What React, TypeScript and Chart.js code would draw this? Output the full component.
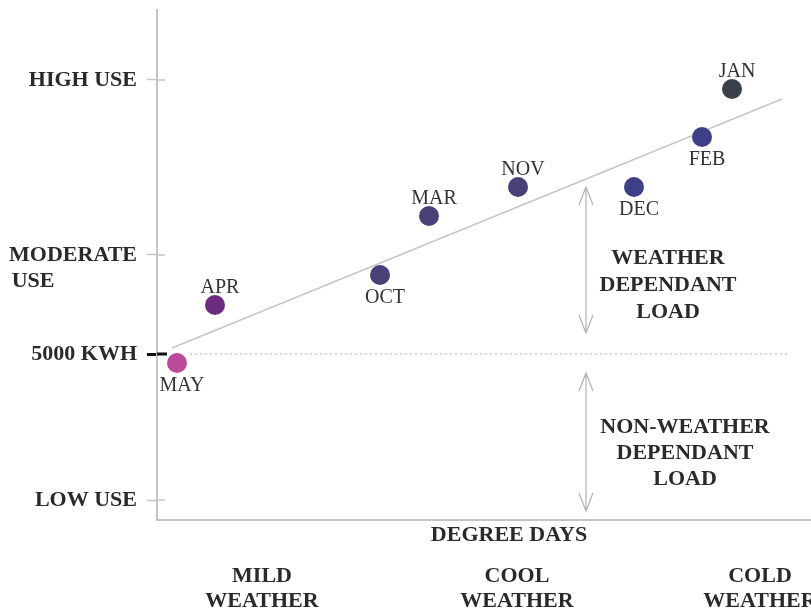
import React, { useEffect, useRef } from 'react';
import { Chart, registerables } from 'chart.js';

Chart.register(...registerables);

// ---- data (x: degree-day units, y: usage units) ----
const months = ['MAY', 'APR', 'OCT', 'MAR', 'NOV', 'DEC', 'FEB', 'JAN'];
const degreeDays = [20, 58, 223, 272, 361, 477, 545, 575];
const usage = [157, 215, 245, 304, 333, 333, 383, 431];
const pointColors = ['#bb4a9c', '#6b2c7d', '#4b3f78', '#4b3f78', '#4b3f78', '#3f3f88', '#3f3f88', '#3a3f4c'];
const labelSides = ['below', 'above', 'below', 'above', 'above', 'below', 'below', 'above'];

const trendX = [15, 625];
const trendY = [172, 421];
const baseLoad = 166;
const baseLineX = [33, 633];

const yTickValues = [20, 166, 265, 440];
const yTickLabels: (string | string[])[] = ['LOW USE', '5000 KWH', ['', 'MODERATE', 'USE' + ' '.repeat(15)], 'HIGH USE'];
const xTickValues = [105, 360, 603];
const xTickLabels = [['MILD', 'WEATHER'], ['COOL', 'WEATHER'], ['COLD', 'WEATHER']];
const xTitle = 'DEGREE DAYS';
const xTitleAt = 352;

const arrowX = 429;
const arrowTops = [333, 147];
const arrowBottoms = [187, 9];

const weatherNoteLines = ['WEATHER', 'DEPENDANT', 'LOAD'];
const weatherNoteX = 511;
const weatherNoteY = [262, 235, 208];
const baseNoteLines = ['NON-WEATHER', 'DEPENDANT', 'LOAD'];
const baseNoteX = 528;
const baseNoteY = [93, 67, 41];

const SERIF = '"Liberation Serif", "Times New Roman", serif';
const TEXT = '#2a2a2a';

const notesPlugin = {
  id: 'notes',
  afterDatasetsDraw(chart: any) {
    const { ctx } = chart;
    const xs = chart.scales.x;
    const ys = chart.scales.y;
    ctx.save();
    // inner part of y tick marks (they cross the axis)
    yTickValues.forEach((v) => {
      const py = ys.getPixelForValue(v);
      const base = v === baseLoad;
      ctx.strokeStyle = base ? '#111111' : '#c4c4c4';
      ctx.lineWidth = base ? 3 : 1.5;
      ctx.beginPath();
      ctx.moveTo(xs.left, py);
      ctx.lineTo(xs.left + (base ? 10 : 8), py);
      ctx.stroke();
    });
    // double arrows
    ctx.strokeStyle = '#b2b2b2';
    ctx.lineWidth = 1.2;
    arrowTops.forEach((t, i) => {
      const px = xs.getPixelForValue(arrowX);
      const p1 = ys.getPixelForValue(t);
      const p2 = ys.getPixelForValue(arrowBottoms[i]);
      ctx.beginPath();
      ctx.moveTo(px, p1);
      ctx.lineTo(px, p2);
      ctx.moveTo(px - 7, p1 + 18);
      ctx.lineTo(px, p1);
      ctx.lineTo(px + 7, p1 + 18);
      ctx.moveTo(px - 7, p2 - 18);
      ctx.lineTo(px, p2);
      ctx.lineTo(px + 7, p2 - 18);
      ctx.stroke();
    });
    // notes
    ctx.fillStyle = TEXT;
    ctx.textAlign = 'center';
    ctx.textBaseline = 'middle';
    ctx.font = `bold 22px ${SERIF}`;
    weatherNoteLines.forEach((l, i) => {
      ctx.fillText(l, xs.getPixelForValue(weatherNoteX), ys.getPixelForValue(weatherNoteY[i]));
    });
    baseNoteLines.forEach((l, i) => {
      ctx.fillText(l, xs.getPixelForValue(baseNoteX), ys.getPixelForValue(baseNoteY[i]));
    });
    ctx.fillText(xTitle, xs.getPixelForValue(xTitleAt), xs.top + 15);
    // month labels
    ctx.font = `20px ${SERIF}`;
    ctx.fillStyle = '#333333';
    const meta = chart.getDatasetMeta(0);
    meta.data.forEach((el: any, i: number) => {
      const dy = labelSides[i] === 'above' ? -17 : 23;
      ctx.fillText(months[i], el.x + 5, el.y + dy);
    });
    ctx.restore();
  },
};

export default function App() {
  const ref = useRef<HTMLCanvasElement>(null);
  useEffect(() => {
    if (!ref.current) return;
    const chart = new Chart(ref.current, {
      type: 'scatter',
      data: {
        datasets: [
          {
            data: months.map((_, i) => ({ x: degreeDays[i], y: usage[i] })),
            backgroundColor: pointColors,
            pointBackgroundColor: pointColors,
            pointBorderWidth: 0,
            pointRadius: 10,
            order: 0,
          },
          {
            data: trendX.map((x, i) => ({ x, y: trendY[i] })),
            showLine: true,
            borderColor: '#c6c6c6',
            borderWidth: 1.5,
            pointRadius: 0,
            order: 1,
          },
          {
            data: baseLineX.map((x) => ({ x, y: baseLoad })),
            showLine: true,
            borderColor: '#c9c9c9',
            borderWidth: 1.5,
            borderDash: [2, 3],
            pointRadius: 0,
            order: 2,
          },
        ],
      } as any,
      options: {
        animation: false,
        responsive: false,
        layout: { autoPadding: false, padding: { top: 10, left: 0, right: 0, bottom: 0 } },
        plugins: { legend: { display: false }, tooltip: { enabled: false } },
        scales: {
          x: {
            type: 'linear',
            min: 0,
            max: 654,
            afterBuildTicks: (s: any) => {
              s.ticks = xTickValues.map((v) => ({ value: v }));
            },
            afterFit: (s: any) => {
              s.height = 91;
              s.paddingLeft = 0;
              s.paddingRight = 0;
            },
            grid: { display: false },
            border: { display: true, color: '#c4c4c4', width: 2 },
            ticks: {
              autoSkip: false,
              maxRotation: 0,
              padding: 36,
              color: TEXT,
              font: { family: SERIF, size: 22, weight: 'bold', lineHeight: '25px' },
              callback: (_v: any, i: number) => xTickLabels[i],
            },
          },
          y: {
            type: 'linear',
            min: 0,
            max: 510,
            afterBuildTicks: (s: any) => {
              s.ticks = yTickValues.map((v) => ({ value: v }));
            },
            afterFit: (s: any) => {
              s.width = 157;
              s.paddingTop = 0;
              s.paddingBottom = 0;
            },
            grid: {
              display: true,
              drawOnChartArea: false,
              drawTicks: true,
              tickLength: 10,
              tickColor: (c: any) => (c.tick && c.tick.value === baseLoad ? '#111111' : '#c4c4c4'),
              tickWidth: (c: any) => (c.tick && c.tick.value === baseLoad ? 3 : 1.5),
            },
            border: { display: true, color: '#c4c4c4', width: 2 },
            ticks: {
              autoSkip: false,
              padding: 10,
              color: TEXT,
              font: { family: SERIF, size: 22, weight: 'bold', lineHeight: '26px' },
              callback: (_v: any, i: number) => yTickLabels[i],
            },
          },
        },
      } as any,
      plugins: [notesPlugin],
    });
    return () => chart.destroy();
  }, []);
  return (
    <div style={{ position: 'fixed', left: 0, top: 0, width: 811, height: 611, background: '#fff' }}>
      <canvas ref={ref} width={811} height={611} style={{ display: 'block' }} />
    </div>
  );
}
